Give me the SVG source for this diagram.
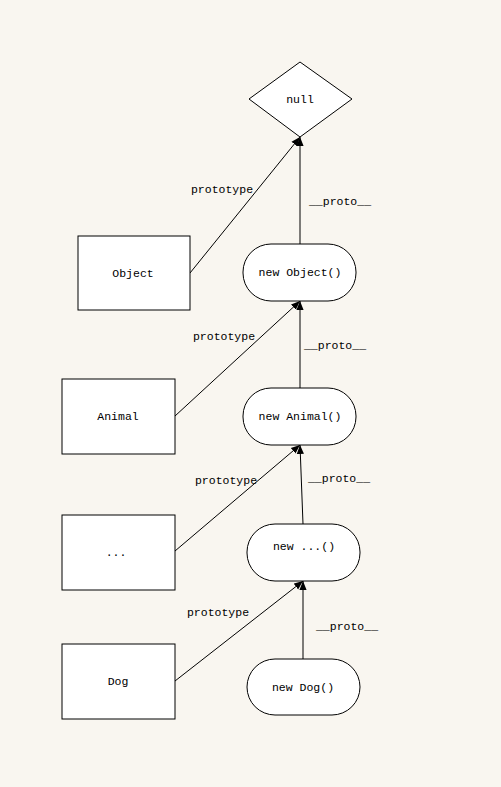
<svg xmlns="http://www.w3.org/2000/svg" width="501" height="787" viewBox="0 0 501 787">
<style>
.n{fill:#fff;stroke:#000;stroke-width:1}
.t{font-family:"Liberation Mono","DejaVu Sans Mono",monospace;font-size:11.5px;fill:#000;text-anchor:middle;dominant-baseline:central}
.e{stroke:#000;stroke-width:1;fill:none;marker-end:url(#ah)}
</style>
<defs>
<marker id="ah" viewBox="0 0 10 10" refX="10" refY="5" markerWidth="9" markerHeight="9" markerUnits="userSpaceOnUse" orient="auto">
<path d="M0,1 L10,5 L0,9 Z" fill="#000"/>
</marker>
</defs>
<rect width="501" height="787" fill="#f9f6f0"/>
<g id="connectors">
<line class="e" x1="190" y1="273" x2="300" y2="137"/>
<line class="e" x1="300" y1="244" x2="300" y2="137"/>
<line class="e" x1="175" y1="416" x2="300" y2="301"/>
<line class="e" x1="300" y1="388" x2="300" y2="301"/>
<line class="e" x1="175" y1="551" x2="300" y2="445"/>
<line class="e" x1="303" y1="524" x2="300" y2="445"/>
<line class="e" x1="175" y1="681" x2="303" y2="581"/>
<line class="e" x1="303" y1="659" x2="303" y2="581"/>
<text class="t" x="222" y="189">prototype</text>
<text class="t" x="340" y="201">__proto__</text>
<text class="t" x="224" y="336">prototype</text>
<text class="t" x="335" y="345">__proto__</text>
<text class="t" x="226" y="480">prototype</text>
<text class="t" x="339" y="478">__proto__</text>
<text class="t" x="218" y="612">prototype</text>
<text class="t" x="347" y="626">__proto__</text>
</g>
<g id="null"><polygon class="n" points="300,62 352,99 300,137 249,99"/><text class="t" x="300" y="99">null</text></g>
<g id="Object"><rect class="n" x="78" y="236" width="112" height="74"/><text class="t" x="133" y="273">Object</text></g>
<g id="newObject"><rect class="n" x="243" y="244" width="113" height="57" rx="28" ry="28"/><text class="t" x="300" y="272">new Object()</text></g>
<g id="Animal"><rect class="n" x="62" y="379" width="113" height="75"/><text class="t" x="118" y="416">Animal</text></g>
<g id="newAnimal"><rect class="n" x="243" y="388" width="113" height="57" rx="28" ry="28"/><text class="t" x="300" y="416">new Animal()</text></g>
<g id="dots"><rect class="n" x="62" y="515" width="113" height="75"/><text class="t" x="116" y="552">...</text></g>
<g id="newDots"><rect class="n" x="247" y="524" width="113" height="57" rx="28" ry="28"/><text class="t" x="304" y="546">new ...()</text></g>
<g id="Dog"><rect class="n" x="62" y="644" width="113" height="75"/><text class="t" x="118" y="681">Dog</text></g>
<g id="newDog"><rect class="n" x="247" y="659" width="113" height="56" rx="28" ry="28"/><text class="t" x="303" y="687">new Dog()</text></g>
</svg>
